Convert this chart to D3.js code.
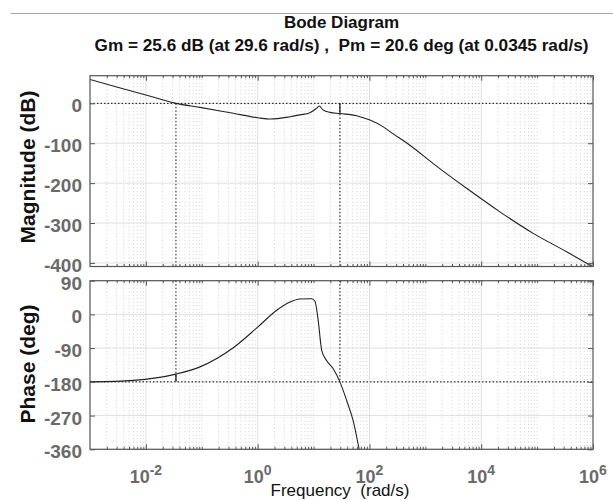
<!DOCTYPE html>
<html>
<head>
<meta charset="utf-8">
<script src="https://cdn.jsdelivr.net/npm/d3@7"></script>
<style>
  body { margin: 0; background: #fff; }
  svg { display: block; font-family: "Liberation Sans", Arial, sans-serif; }
  text { white-space: pre; }
</style>
</head>
<body>
<svg id="chart" width="613" height="500"></svg>
<script>
// Open-loop frequency response samples (rad/s, dB)
const magFreq = [0.001, 0.003, 0.01, 0.0345, 0.093, 0.366, 1.0, 1.67, 3.8, 5.7, 8.6, 11.4, 12.65, 14.9, 19.6, 29.6, 59, 102, 177, 233, 530, 1385, 5480, 21600, 85200, 337000, 1000000];
const magDb   = [60, 41, 21, 0, -10, -25, -36, -39.4, -33.6, -29, -23.6, -12, -6.8, -17, -22.6, -25.6, -31, -42, -59, -71, -105, -151, -213, -272, -326, -372, -410];

// Phase samples (rad/s, deg)
const phaseFreq = [0.001, 0.006, 0.0345, 0.093, 0.366, 1.0, 2.19, 3.79, 5.7, 9.2, 10.6, 12.1, 14.0, 17.1, 22.5, 29.6, 39, 51, 65.6, 80];
const phaseDeg  = [-180, -176, -159.4, -140, -89, -34, 11, 33, 41, 42, 35, -16, -96, -123, -145, -180, -229, -283, -360, -420];

// Axis ticks
const magTicks = [0, -100, -200, -300, -400];
const phaseTicks = [90, 0, -90, -180, -270, -360];
const freqMajorExp = [-2, 0, 2, 4, 6];

// Stability margins
const gainMarginDb = 25.6, gainMarginFreq = 29.6;
const phaseMarginDeg = 20.6, phaseMarginFreq = 0.0345;

const titleText = "Bode Diagram";
const subtitleText = "Gm = 25.6 dB (at 29.6 rad/s) ,  Pm = 20.6 deg (at 0.0345 rad/s)";
const magLabel = "Magnitude (dB)";
const phaseLabel = "Phase (deg)";
const freqLabel = "Frequency  (rad/s)";

const svg = d3.select("#chart");
const left = 90, right = 593;
const magTop = 75.7, magBottom = 266.5;
const phTop = 280.7, phBottom = 449.3;

const x = d3.scaleLog().domain([1e-3, 1e6]).range([left, right]);
const yMag = d3.scaleLinear().domain([-409, 69.3]).range([magBottom, magTop]);
const yPh = d3.scaleLinear().domain([-360, 90]).range([phBottom, phTop]);

// minor frequency positions: 1..9 x 10^k, skipping the labelled decades
const minorFreqs = [];
for (let k = -3; k <= 5; k++) {
  for (let m = 1; m <= 9; m++) {
    if (m === 1 && (k % 2 === 0 || k === -3)) continue;
    minorFreqs.push(m * Math.pow(10, k));
  }
}
const majorFreqs = freqMajorExp.map(e => Math.pow(10, e));

// top separator line
svg.append("line").attr("x1", 11).attr("x2", 613).attr("y1", 13.5).attr("y2", 13.5)
  .attr("stroke", "#a8a8a8").attr("stroke-width", 1.2);

svg.append("text").attr("x", 341.5).attr("y", 28).attr("text-anchor", "middle")
  .attr("font-weight", "bold").attr("font-size", 17).attr("fill", "#111").text(titleText);
svg.append("text").attr("x", 341.5).attr("y", 51).attr("text-anchor", "middle")
  .attr("font-weight", "bold").attr("font-size", 17.2).attr("fill", "#111").text(subtitleText);

function panel(y, top, bottom, ticks, id) {
  const g = svg.append("g");
  // minor vertical grid
  g.selectAll(".mg").data(minorFreqs).join("line")
    .attr("x1", d => x(d)).attr("x2", d => x(d)).attr("y1", top).attr("y2", bottom)
    .attr("stroke", "#cfcfcf").attr("stroke-width", 1).attr("stroke-dasharray", "1,2.5");
  // major grid
  g.selectAll(".vg").data(majorFreqs.slice(0, -1)).join("line")
    .attr("x1", d => x(d)).attr("x2", d => x(d)).attr("y1", top).attr("y2", bottom)
    .attr("stroke", "#e0e0e0").attr("stroke-width", 1);
  g.selectAll(".hg").data(ticks).join("line")
    .attr("x1", left).attr("x2", right).attr("y1", d => y(d)).attr("y2", d => y(d))
    .attr("stroke", "#e0e0e0").attr("stroke-width", 1);
  svg.append("clipPath").attr("id", id).append("rect")
    .attr("x", left).attr("y", top).attr("width", right - left).attr("height", bottom - top);
  return g;
}

function frame(y, top, bottom, ticks) {
  const g = svg.append("g");
  const ax = d3.axisLeft(y).tickValues(ticks).tickSizeInner(-5).tickSizeOuter(0).tickPadding(8)
    .tickFormat(d => String(d));
  const gl = g.append("g").attr("transform", `translate(${left},0)`).call(ax);
  gl.select(".domain").remove();
  gl.selectAll("line").attr("stroke", "#555");
  gl.selectAll("text").attr("font-size", 19).attr("font-weight", "bold")
    .attr("fill", "#6a6a6a").attr("dy", "0.45em").attr("font-family", "Liberation Sans, Arial, sans-serif");
  const gr = g.append("g").attr("transform", `translate(${right},0)`)
    .call(d3.axisRight(y).tickValues(ticks).tickSizeInner(-5).tickSizeOuter(0).tickFormat(""));
  gr.select(".domain").remove();
  gr.selectAll("line").attr("stroke", "#555");
  [[bottom, d3.axisBottom], [top, d3.axisTop]].forEach(([yy, fn]) => {
    const gMaj = g.append("g").attr("transform", `translate(0,${yy})`)
      .call(fn(x).tickValues(majorFreqs).tickSizeInner(-5).tickSizeOuter(0).tickFormat(""));
    gMaj.select(".domain").remove();
    gMaj.selectAll("line").attr("stroke", "#555");
    const gMin = g.append("g").attr("transform", `translate(0,${yy})`)
      .call(fn(x).tickValues(minorFreqs).tickSizeInner(-2.5).tickSizeOuter(0).tickFormat(""));
    gMin.select(".domain").remove();
    gMin.selectAll("line").attr("stroke", "#555");
  });
  g.append("rect").attr("x", left).attr("y", top).attr("width", right - left).attr("height", bottom - top)
    .attr("fill", "none").attr("stroke", "#555").attr("stroke-width", 1.2);
}

const lineColor = "#222";
const dotted = "1.5,2";

// ---- Magnitude panel ----
const gm = panel(yMag, magTop, magBottom, magTicks, "clipMag");
gm.append("line").attr("x1", left).attr("x2", right).attr("y1", yMag(0)).attr("y2", yMag(0))
  .attr("stroke", "#111").attr("stroke-dasharray", dotted);
[phaseMarginFreq, gainMarginFreq].forEach(f => {
  gm.append("line").attr("x1", x(f)).attr("x2", x(f)).attr("y1", yMag(0)).attr("y2", magBottom)
    .attr("stroke", "#111").attr("stroke-dasharray", dotted);
});
gm.append("line").attr("x1", x(gainMarginFreq)).attr("x2", x(gainMarginFreq))
  .attr("y1", yMag(0)).attr("y2", yMag(-gainMarginDb)).attr("stroke", "#111").attr("stroke-width", 1.2);
const magData = magFreq.map((f, i) => ({ f, v: magDb[i] }));
gm.append("path").datum(magData).attr("clip-path", "url(#clipMag)")
  .attr("d", d3.line().x(d => x(d.f)).y(d => yMag(d.v)).curve(d3.curveMonotoneX))
  .attr("fill", "none").attr("stroke", lineColor).attr("stroke-width", 1.1);
frame(yMag, magTop, magBottom, magTicks);

// ---- Phase panel ----
const gp = panel(yPh, phTop, phBottom, phaseTicks, "clipPh");
gp.append("line").attr("x1", left).attr("x2", right).attr("y1", yPh(-180)).attr("y2", yPh(-180))
  .attr("stroke", "#111").attr("stroke-dasharray", dotted);
[phaseMarginFreq, gainMarginFreq].forEach(f => {
  gp.append("line").attr("x1", x(f)).attr("x2", x(f)).attr("y1", phTop).attr("y2", yPh(-180))
    .attr("stroke", "#111").attr("stroke-dasharray", dotted);
});
gp.append("line").attr("x1", x(phaseMarginFreq)).attr("x2", x(phaseMarginFreq))
  .attr("y1", yPh(-180 + phaseMarginDeg)).attr("y2", yPh(-180)).attr("stroke", "#111").attr("stroke-width", 1.2);
const phData = phaseFreq.map((f, i) => ({ f, v: phaseDeg[i] }));
gp.append("path").datum(phData).attr("clip-path", "url(#clipPh)")
  .attr("d", d3.line().x(d => x(d.f)).y(d => yPh(d.v)).curve(d3.curveMonotoneX))
  .attr("fill", "none").attr("stroke", lineColor).attr("stroke-width", 1.1);
frame(yPh, phTop, phBottom, phaseTicks);

// frequency tick labels 10^n
freqMajorExp.forEach(e => {
  const t = svg.append("text").attr("x", x(Math.pow(10, e))).attr("y", 482.7)
    .attr("text-anchor", "middle").attr("font-weight", "bold").attr("fill", "#6a6a6a");
  t.append("tspan").attr("font-size", 18).text("10");
  t.append("tspan").attr("font-size", 14).attr("dy", -8).text(String(e));
});

// axis titles
svg.append("text").attr("transform", "translate(35,167) rotate(-90)").attr("text-anchor", "middle")
  .attr("font-weight", "bold").attr("font-size", 21).attr("fill", "#111").text(magLabel);
svg.append("text").attr("transform", "translate(35,364) rotate(-90)").attr("text-anchor", "middle")
  .attr("font-weight", "bold").attr("font-size", 21).attr("fill", "#111").text(phaseLabel);
svg.append("text").attr("x", 340).attr("y", 495.5).attr("text-anchor", "middle")
  .attr("font-size", 17).attr("fill", "#111").text(freqLabel);
</script>
</body>
</html>
